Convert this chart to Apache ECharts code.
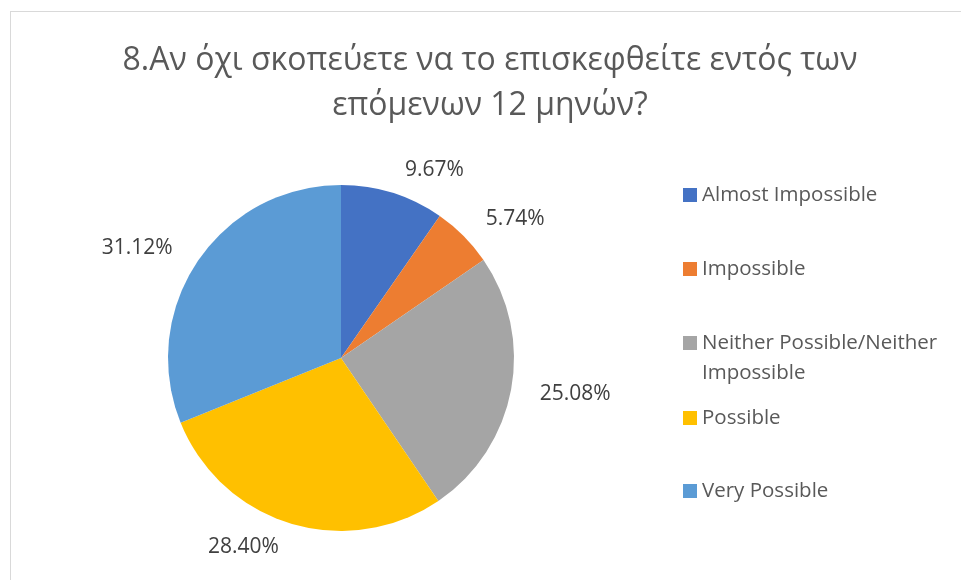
<!DOCTYPE html>
<html>
<head>
<meta charset="utf-8">
<script src="https://cdn.jsdelivr.net/npm/echarts@6/dist/echarts.min.js"></script>
<style>
	html, body {margin: 0; padding: 0; background: #fff; overflow: hidden;}
	.frame {position: absolute; left: 10px; top: 11px; width: 1100px; height: 800px; border: 1px solid #d9d9d9;}
	#main {position: absolute; left: 0; top: 0; width: 980px; height: 580px;}
</style>
</head>
<body>
<div class="frame"></div>
<div id="main"></div>
<script>
	// data
	const titleText = '8.Αν όχι σκοπεύετε να το επισκεφθείτε εντός των\nεπόμενων 12 μηνών?';
	const categories = ['Almost Impossible', 'Impossible', 'Neither Possible/Neither Impossible', 'Possible', 'Very Possible'];
	const shares = [9.67, 5.74, 25.08, 28.40, 31.12];
	const colors = ['#4472C4', '#ED7D31', '#A5A5A5', '#FFC000', '#5B9BD5'];

	// legend rows (Excel spaces them unevenly)
	const legendTops = [180, 254, 328, 403, 476];

	const chart = echarts.init(document.getElementById('main'));

	const legends = categories.map((name, i) => {
		const twoLine = name.indexOf('/Neither ') > 0;
		return {
			left: 683,
			top: legendTops[i],
			padding: 0,
			orient: 'vertical',
			itemWidth: 14,
			itemHeight: twoLine ? 44 : 14,
			icon: twoLine ? 'path://M0,0L14,0L14,14L0,14Z M0,44L0.01,44' : 'rect',
			data: [name],
			selectedMode: false,
			formatter: n => n.replace('/Neither ', '/Neither\n'),
			textStyle: {fontFamily: 'Open Sans', fontSize: 20.5, color: '#595959', lineHeight: 30}
		};
	});

	chart.setOption({
		animation: false,
		title: {
			text: titleText,
			left: 'center',
			top: 33,
			textStyle: {fontFamily: 'Open Sans', fontSize: 32, fontWeight: 'normal', color: '#595959', lineHeight: 45}
		},
		legend: legends,
		series: [{
			type: 'pie',
			center: [341, 358],
			radius: 173,
			startAngle: 90,
			clockwise: true,
			avoidLabelOverlap: false,
			itemStyle: {borderWidth: 0},
			label: {
				show: true,
				position: 'outside',
				fontFamily: 'Open Sans',
				fontSize: 21,
				color: '#404040',
				formatter: p => p.value.toFixed(2) + '%'
			},
			labelLine: {show: false, length: 24, length2: 0},
			emphasis: {disabled: true},
			data: categories.map((name, i) => ({name: name, value: shares[i], itemStyle: {color: colors[i]}}))
		}]
	});
</script>
</body>
</html>
